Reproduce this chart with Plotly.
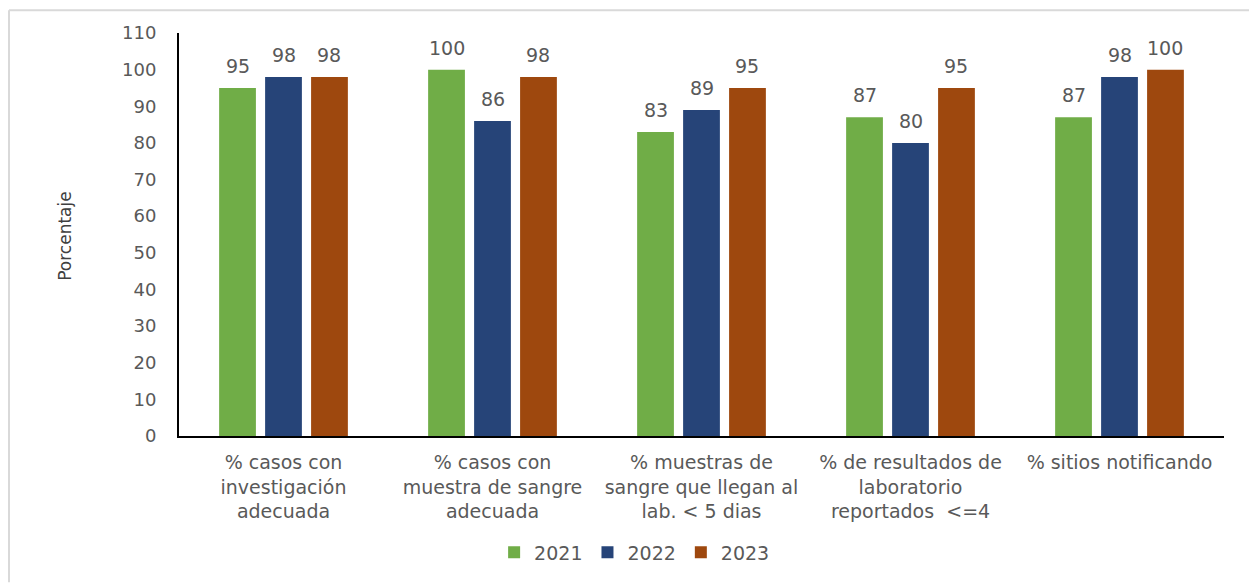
import plotly.graph_objects as go

# Indicators and yearly percentages
categorias = [
    "% casos con<br>investigación<br>adecuada",
    "% casos con<br>muestra de sangre<br>adecuada",
    "% muestras de<br>sangre que llegan al<br>lab. < 5 dias",
    "% de resultados de<br>laboratorio<br>reportados  <=4",
    "% sitios notificando",
]
anios = ["2021", "2022", "2023"]
valores_2021 = [95, 100, 83, 87, 87]
valores_2022 = [98, 86, 89, 80, 98]
valores_2023 = [98, 98, 95, 95, 100]
y_ticks = list(range(0, 111, 10))

series = [valores_2021, valores_2022, valores_2023]
colores = ["#70AD47", "#264478", "#9E480E"]

FONT = "DejaVu Sans"
GRIS = "#595959"

# plot area geometry (pixels) used to offset value labels onto their bars
W, H = 1249, 584
ML, MR, MT, MB = 179, 25, 33, 143
BARGAP, BARGROUPGAP = 0.34, 0.2
cat_px = (W - ML - MR) / len(categorias)
slot_px = cat_px * (1 - BARGAP) / len(anios)
plot_h = H - MT - MB

fig = go.Figure()
annotations = []
for i, (anio, vals, color) in enumerate(zip(anios, series, colores)):
    fig.add_trace(go.Bar(
        name=anio,
        x=categorias,
        y=vals,
        marker=dict(color=color, line=dict(width=0)),
        hoverinfo="skip",
    ))
    for cat, v in zip(categorias, vals):
        annotations.append(dict(
            x=cat, y=v, xref="x", yref="y",
            text=str(v), showarrow=False,
            xanchor="center", yanchor="bottom",
            xshift=(i - (len(anios) - 1) / 2) * slot_px,
            yshift=9,
            font=dict(family=FONT, size=19, color=GRIS),
        ))

annotations.append(dict(
    text="Porcentaje", x=-0.109, y=0.497, xref="paper", yref="paper",
    textangle=-90, showarrow=False,
    font=dict(family=FONT, size=17, color="#404040"),
    xanchor="center", yanchor="middle",
))

# frame edges in paper coordinates
fx = (9 - ML) / (W - ML - MR)
fy_top = 1 + (MT - 10) / plot_h
fy_bot = -(MB + 5) / plot_h

fig.update_layout(
    width=W,
    height=H,
    margin=dict(l=ML, r=MR, t=MT, b=MB),
    paper_bgcolor="white",
    plot_bgcolor="white",
    barmode="group",
    bargap=BARGAP,
    bargroupgap=BARGROUPGAP,
    font=dict(family=FONT, color=GRIS),
    showlegend=True,
    legend=dict(
        orientation="h",
        x=0.436, xanchor="center",
        y=-0.289, yanchor="middle",
        font=dict(family=FONT, size=19, color=GRIS),
        itemwidth=30,
        traceorder="normal",
    ),
    xaxis=dict(
        showline=True, linecolor="black", linewidth=2,
        showgrid=False, ticks="",
        tickfont=dict(family=FONT, size=19, color=GRIS),
        ticklabelstandoff=8,
    ),
    yaxis=dict(
        range=[0, 110],
        tickvals=y_ticks,
        showline=True, linecolor="black", linewidth=2,
        showgrid=False, ticks="", zeroline=False,
        tickfont=dict(family=FONT, size=18, color=GRIS),
        ticklabelstandoff=17,
    ),
    annotations=annotations,
    shapes=[
        dict(type="line", xref="paper", yref="paper",
             x0=fx, x1=fx, y0=fy_top, y1=fy_bot,
             line=dict(color="#D9D9D9", width=2)),
        dict(type="line", xref="paper", yref="paper",
             x0=fx, x1=1.03, y0=fy_top, y1=fy_top,
             line=dict(color="#D9D9D9", width=2)),
    ],
)

fig.write_html("out.html")
